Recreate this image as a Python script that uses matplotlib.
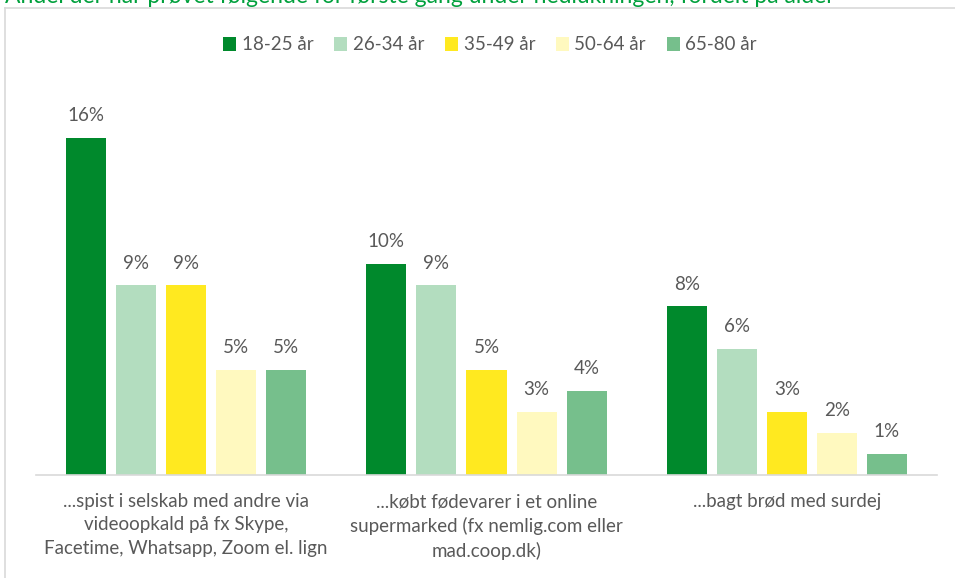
import matplotlib.pyplot as plt
import numpy as np
from matplotlib.lines import Line2D

plt.rcParams['font.family'] = ['Lato', 'DejaVu Sans']

# data
categories = ['...spist i selskab med andre via\nvideoopkald på fx Skype,\nFacetime, Whatsapp, Zoom el. lign',
              '...købt fødevarer i et online\nsupermarked (fx nemlig.com eller\nmad.coop.dk)',
              '...bagt brød med surdej']
ages = ['18-25 år', '26-34 år', '35-49 år', '50-64 år', '65-80 år']
v_18_25 = [16, 10, 8]
v_26_34 = [9, 9, 6]
v_35_49 = [9, 5, 3]
v_50_64 = [5, 3, 2]
v_65_80 = [5, 4, 1]
colors = ['#00892C', '#B3DDBF', '#FFE920', '#FFF9BF', '#76BF8C']
title = 'Andel der har prøvet følgende for første gang under nedlukningen, fordelt på alder'

series = [v_18_25, v_26_34, v_35_49, v_50_64, v_65_80]

fig = plt.figure(figsize=(9.55, 5.78), dpi=100)
W, H = 955, 578

# outer chart border (light gray), partly cut off
fig.add_artist(Line2D([5 / W, 1], [1 - 8 / H, 1 - 8 / H], color='#D9D9D9', lw=1.2))
fig.add_artist(Line2D([5 / W, 5 / W], [0, 1 - 8 / H], color='#D9D9D9', lw=1.2))

# title, cut off at the top like in the source image
fig.text(5 / W, 1 - 3 / H, title, color='#00A03C', fontsize=16.5, ha='left', va='baseline')

ax = fig.add_axes([36 / W, 1 - 475 / H, (937 - 36) / W, (475 - 80) / H])
x = np.arange(len(categories))
step = 1 / 6
width = 0.8 / 6
txtcol = '#595959'
fs = 13.5
for i, vals in enumerate(series):
    pos = x + (i - 2) * step
    bars = ax.bar(pos, vals, width=width, color=colors[i], label=ages[i])
    for b, v in zip(bars, vals):
        ax.annotate(f'{v}%', (b.get_x() + b.get_width() / 2, v), xytext=(0, 10),
                    textcoords='offset points', ha='center', va='bottom',
                    fontsize=fs, color=txtcol)

ax.set_xlim(-0.5, 2.5)
ax.set_ylim(0, 18.75)
ax.set_yticks([])
ax.set_xticks(x)
ax.set_xticklabels(categories, fontsize=fs, color=txtcol, linespacing=1.45)
ax.tick_params(axis='x', length=0, pad=13)
for s in ['top', 'right', 'left']:
    ax.spines[s].set_visible(False)
ax.spines['bottom'].set_color('#D9D9D9')
ax.spines['bottom'].set_linewidth(1.2)

leg = fig.legend(loc='center', bbox_to_anchor=(490 / W, 1 - 45 / H), ncol=5, frameon=False,
                 fontsize=fs, handlelength=0.7, handleheight=0.7, handletextpad=0.3,
                 columnspacing=1.1)
for t in leg.get_texts():
    t.set_color(txtcol)

fig.savefig('out.png', dpi=100)
